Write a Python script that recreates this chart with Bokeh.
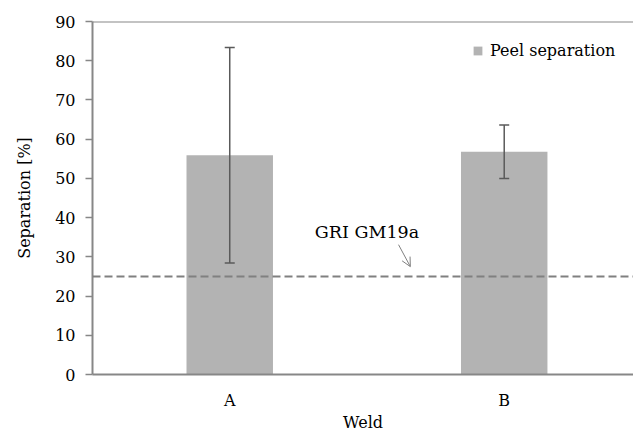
from bokeh.plotting import figure
from bokeh.models import (Range1d, ColumnDataSource, Whisker, TeeHead, Span, Label,
                          Arrow, OpenHead, FixedTicker)
from bokeh.embed import file_html
from bokeh.resources import INLINE

# ---- data ----
categories = ["A", "B"]
separation = [55.9, 56.8]
error = [27.5, 6.8]
threshold = 25
threshold_label = "GRI GM19a"
series_name = "Peel separation"
x_title = "Weld"
y_title = "Separation [%]"
y_ticks = [0, 10, 20, 30, 40, 50, 60, 70, 80, 90]

FONT = "DejaVu Serif"
AXIS_GRAY = "#878787"

x = [i + 0.5 for i in range(len(categories))]
src = ColumnDataSource(dict(
    x=x, top=separation,
    upper=[m + e for m, e in zip(separation, error)],
    lower=[m - e for m, e in zip(separation, error)],
))

p = figure(width=633, height=434,
           x_range=Range1d(0, 1.971), y_range=Range1d(0, 90),
           output_backend="svg", toolbar_location=None,
           min_border_left=92, min_border_right=0, min_border_top=21, min_border_bottom=57)
p.outline_line_color = None
p.xgrid.visible = False
p.ygrid.visible = False
p.background_fill_color = "white"
p.border_fill_color = "white"

p.vbar(x="x", top="top", width=0.315, source=src, fill_color="#b3b3b3",
       line_color=None, legend_label=series_name)

whisk = Whisker(source=src, base="x", upper="upper", lower="lower", dimension="height",
                line_color="#5a5a5a", line_width=1.5, level="overlay",
                upper_head=TeeHead(size=10, line_color="#5a5a5a", line_width=1.5),
                lower_head=TeeHead(size=10, line_color="#5a5a5a", line_width=1.5))
p.add_layout(whisk)

p.add_layout(Span(location=threshold, dimension="width", line_color="#808080",
                  line_width=2, line_dash="8 4"))
p.add_layout(Span(location=90, dimension="width", line_color=AXIS_GRAY, line_width=2))

p.add_layout(Label(x=1.0, y=36.4, text=threshold_label, text_align="center",
                   text_baseline="middle", text_font=FONT, text_font_size="17.5px",
                   text_color="black"))
p.add_layout(Arrow(x_start=1.115, y_start=33.1, x_end=1.158, y_end=27.5,
                   line_color="#808080", line_width=1,
                   end=OpenHead(size=9, line_color="#808080", line_width=1)))

# axes
xa = p.xaxis[0]
xa.ticker = FixedTicker(ticks=x)
xa.major_label_overrides = {xi: c for xi, c in zip(x, categories)}
xa.major_tick_out = 0
xa.major_tick_in = 0
xa.minor_tick_out = 0
xa.minor_tick_in = 0
xa.axis_line_color = AXIS_GRAY
xa.axis_line_width = 2
xa.major_label_standoff = 16
xa.axis_label = x_title
xa.axis_label_standoff = 0

ya = p.yaxis[0]
ya.ticker = FixedTicker(ticks=y_ticks)
ya.major_tick_out = 7
ya.major_tick_in = 0
ya.minor_tick_out = 0
ya.minor_tick_in = 0
ya.major_tick_line_color = AXIS_GRAY
ya.major_tick_line_width = 1.5
ya.axis_line_color = AXIS_GRAY
ya.axis_line_width = 2
ya.major_label_standoff = 10
ya.axis_label = y_title
ya.axis_label_standoff = 18

for ax in (xa, ya):
    ax.major_label_text_font = FONT
    ax.major_label_text_font_size = "16px"
    ax.major_label_text_color = "black"
    ax.axis_label_text_font = FONT
    ax.axis_label_text_font_size = "16px"
    ax.axis_label_text_font_style = "normal"
    ax.axis_label_text_color = "black"

lg = p.legend[0]
lg.location = (380, 314)
lg.padding = 0
lg.margin = 0
lg.spacing = 0
lg.border_line_color = None
lg.background_fill_alpha = 0
lg.glyph_width = 11
lg.glyph_height = 11
lg.label_standoff = 7
lg.label_height = 20
lg.label_text_font = FONT
lg.label_text_font_size = "16px"
lg.label_text_color = "black"

open("out.html", "w").write(file_html(p, INLINE))
